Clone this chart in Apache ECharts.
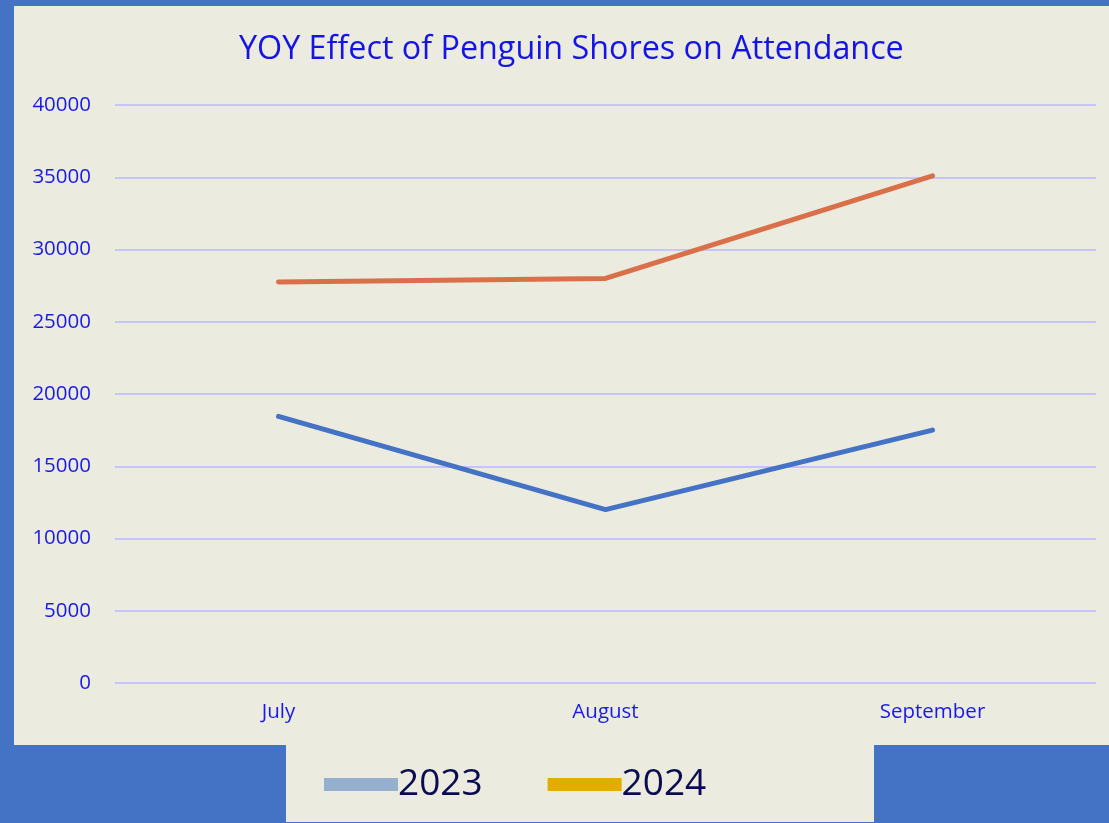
<!DOCTYPE html>
<html>
<head>
<meta charset="utf-8">
<script src="https://cdn.jsdelivr.net/npm/echarts@6/dist/echarts.min.js"></script>
<style>
html,body{margin:0;padding:0;background:#4472C4;}
#c{width:1109px;height:823px;}
</style>
</head>
<body>
<div id="c"></div>
<script>
const categories = ['July', 'August', 'September'];
const series2023 = [18450, 12000, 17500];
const series2024 = [27750, 28000, 35100];
const seriesNames = ['2023', '2024'];
const yTicks = {min: 0, max: 40000, interval: 5000};

const chart = echarts.init(document.getElementById('c'), null, {renderer: 'canvas'});
const font = '"Open Sans", "Noto Sans", sans-serif';
chart.setOption({
  backgroundColor: '#4472C4',
  animation: false,
  graphic: [
    {type: 'rect', z: -100, silent: true, shape: {x: 14, y: 6, width: 1095, height: 739}, style: {fill: '#EBEBE0'}},
    {type: 'rect', z: -100, silent: true, shape: {x: 286, y: 744, width: 588, height: 78}, style: {fill: '#EBEBE0'}}
  ],
  title: {
    text: 'YOY Effect of Penguin Shores on Attendance',
    left: 234,
    top: 29,
    textStyle: {color: '#1414E6', fontSize: 32.3, fontWeight: 'normal', fontFamily: font}
  },
  legend: {
    left: 319,
    top: 761,
    icon: 'rect',
    itemWidth: 74,
    itemHeight: 13,
    itemGap: 65,
    textStyle: {color: '#0B0B50', fontSize: 37, fontFamily: font, padding: [3, 0, 0, -5]},
    data: [
      {name: seriesNames[0], itemStyle: {color: '#95B0CE'}},
      {name: seriesNames[1], itemStyle: {color: '#E3AD00'}}
    ]
  },
  grid: {left: 115, right: 13, top: 105, bottom: 140, containLabel: false},
  xAxis: {
    type: 'category',
    data: categories,
    boundaryGap: true,
    axisLine: {show: false},
    axisTick: {show: false},
    axisLabel: {color: '#1A1AE6', fontSize: 20.5, fontFamily: font, margin: 19}
  },
  yAxis: {
    type: 'value',
    min: yTicks.min,
    max: yTicks.max,
    interval: yTicks.interval,
    axisLine: {show: false},
    axisTick: {show: false},
    splitLine: {lineStyle: {color: '#C6C4FA', width: 2}},
    axisLabel: {color: '#1A1AE6', fontSize: 20.5, fontFamily: font, margin: 24, formatter: v => String(v)}
  },
  series: [
    {name: seriesNames[0], type: 'line', data: series2023, symbol: 'none',
     lineStyle: {color: '#4472C4', width: 5, cap: 'round', join: 'round'}, itemStyle: {color: '#95B0CE'}},
    {name: seriesNames[1], type: 'line', data: series2024, symbol: 'none',
     lineStyle: {color: '#D9704A', width: 5, cap: 'round', join: 'round'}, itemStyle: {color: '#E3AD00'}}
  ]
});
</script>
</body>
</html>
